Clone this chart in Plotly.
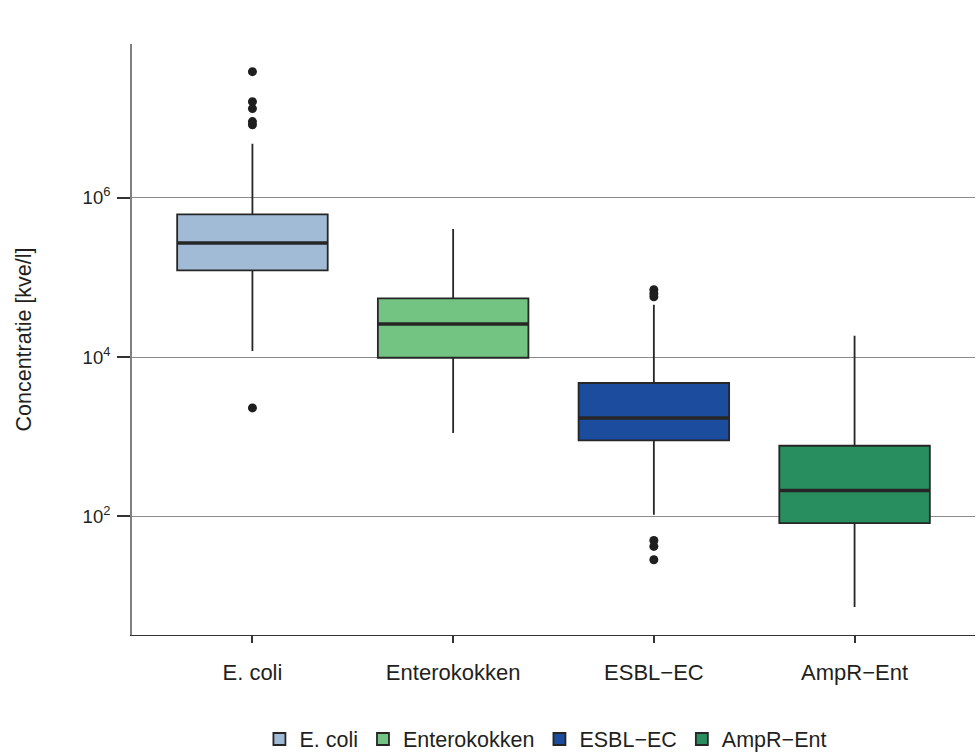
import plotly.graph_objects as go

# Bacterial concentrations (kve/l), box summary statistics per group
categories = ["E. coli", "Enterokokken", "ESBL−EC", "AmpR−Ent"]
q1 = [1.22e5, 9.8e3, 9.0e2, 82.6]
median = [2.70e5, 2.59e4, 1.72e3, 212]
q3 = [6.17e5, 5.45e4, 4.72e3, 771]
lower_whisker = [1.19e4, 1.11e3, 105, 7.3]
upper_whisker = [4.76e6, 4.05e5, 4.53e4, 1.85e4]
outliers = [
    [3.81e7, 1.60e7, 1.31e7, 9.0e6, 8.2e6, 2.30e3],
    [],
    [7.0e4, 6.25e4, 5.7e4, 50, 42, 28.6],
    [],
]

fill_colors = ["#A1BBD7", "#73C483", "#1C4C9E", "#288D5F"]
edge = "#262626"
box_width = 0.75
font_family = "Liberation Sans, Arial, sans-serif"

fig = go.Figure()

for i, name in enumerate(categories):
    fig.add_trace(go.Box(
        name=name,
        x=[i],
        q1=[q1[i]],
        median=[median[i]],
        q3=[q3[i]],
        lowerfence=[lower_whisker[i]],
        upperfence=[upper_whisker[i]],
        width=box_width,
        whiskerwidth=0,
        fillcolor=fill_colors[i],
        line=dict(color=edge, width=1.8),
        boxpoints=False,
        hoverinfo="skip",
        showlegend=True,
    ))

# Thicker median bars on top of each box
for i, name in enumerate(categories):
    fig.add_trace(go.Scatter(
        x=[i - box_width / 2, i + box_width / 2],
        y=[median[i], median[i]],
        mode="lines",
        line=dict(color=edge, width=3.5),
        showlegend=False,
        hoverinfo="skip",
    ))

# Outlying observations
for i, pts in enumerate(outliers):
    if pts:
        fig.add_trace(go.Scatter(
            x=[i] * len(pts),
            y=pts,
            mode="markers",
            marker=dict(color="#1f1f1f", size=9),
            showlegend=False,
            hoverinfo="skip",
        ))

ytick_vals = [1e2, 1e4, 1e6]
ytick_text = ["10<sup>2</sup>", "10<sup>4</sup>", "10<sup>6</sup>"]

fig.update_layout(
    width=978,
    height=756,
    margin=dict(l=132, r=3, t=44, b=121, autoexpand=False),
    plot_bgcolor="white",
    paper_bgcolor="white",
    font=dict(family=font_family, size=21, color="#231f20"),
    showlegend=True,
    legend=dict(
        orientation="h",
        x=0.491,
        xanchor="center",
        y=-0.176,
        yanchor="middle",
        font=dict(size=21.5, color="#231f20"),
        itemwidth=30,
        traceorder="normal",
    ),
    xaxis=dict(
        range=[-0.6, 3.6],
        tickvals=list(range(len(categories))),
        ticktext=categories,
        showgrid=False,
        zeroline=False,
        showline=True,
        linecolor="#333333",
        linewidth=1.2,
        ticks="outside",
        ticklen=7,
        tickwidth=1.5,
        tickcolor="#333333",
        tickfont=dict(size=22),
        ticklabelstandoff=10,
    ),
    yaxis=dict(
        type="log",
        range=[0.512, 7.928],
        tickvals=ytick_vals,
        ticktext=ytick_text,
        showgrid=True,
        gridcolor="#8c8c8c",
        gridwidth=1,
        zeroline=False,
        showline=True,
        linecolor="#808080",
        linewidth=1.8,
        ticks="outside",
        ticklen=13,
        tickwidth=1.5,
        tickcolor="#333333",
        tickfont=dict(size=18.5),
        ticklabelstandoff=3,
        title=dict(text="Concentratie [kve/l]", font=dict(size=21.5), standoff=45),
    ),
)

fig.write_html("out.html")
